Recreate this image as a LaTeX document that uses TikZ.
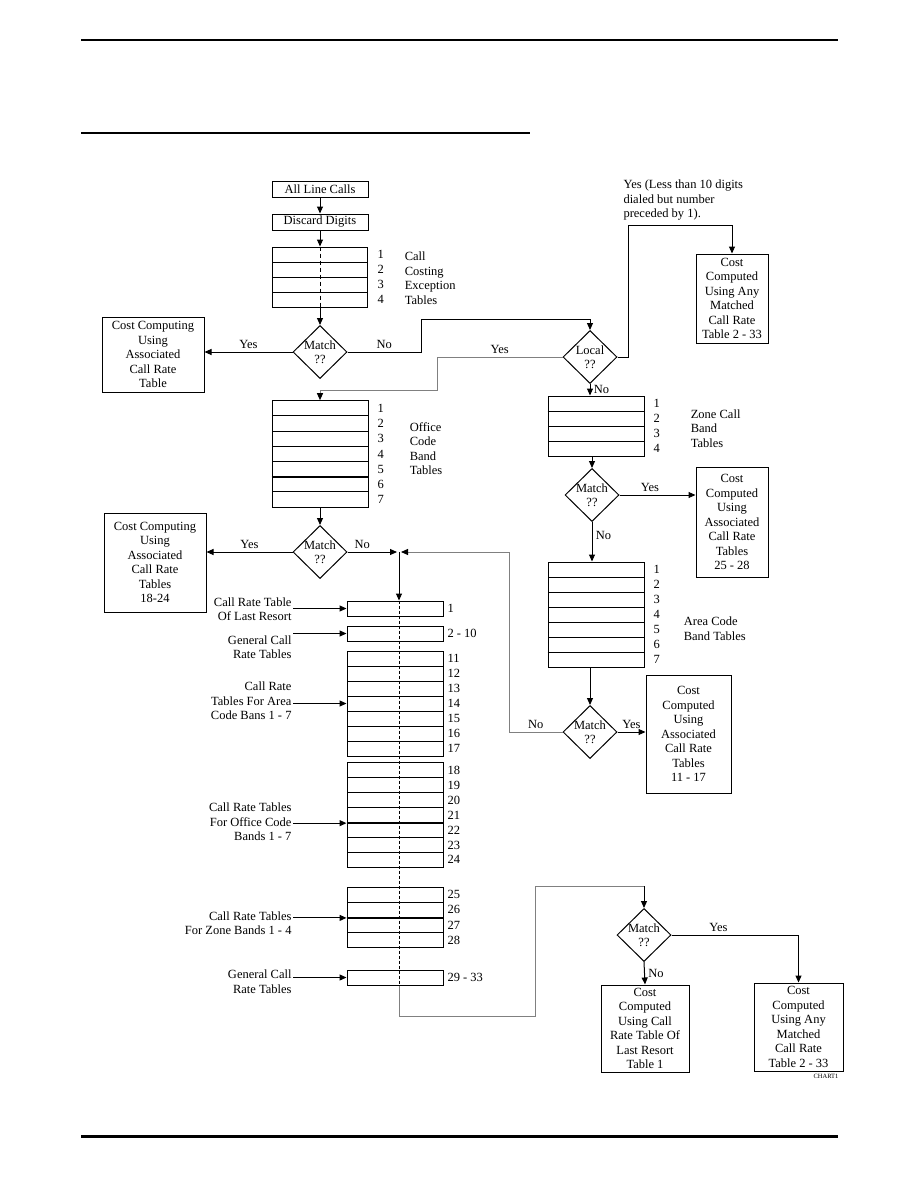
\documentclass[tikz,border=0pt]{standalone}
\usepackage{fontspec}
\setmainfont{Liberation Serif}
\usetikzlibrary{arrows.meta,shapes.geometric,calc}

\begin{document}
\begin{tikzpicture}[
    x=1pt,
    y=-1pt,
    line width=1pt,
    every node/.style={font=\fontsize{12.5}{14.5}\selectfont},
    box/.style={draw, align=center, inner sep=1pt},
    tbl/.style={draw, minimum width=96pt, minimum height=15pt, inner sep=0pt},
    dec/.style={draw, diamond, minimum width=54pt, minimum height=53pt, inner sep=0pt},
    num/.style={anchor=west, inner sep=1pt},
    side/.style={anchor=east, align=right, inner sep=1pt},
    arr/.style={-{Triangle[length=7pt,width=6pt]}},
    garr/.style={draw=black!50, -{Triangle[length=7pt,width=6pt,color=black]}},
    sep/.style={line width=1.8pt}
]
\useasboundingbox (0,0) rectangle (918,1188);

% page rules
\draw[line width=2pt] (81,40) -- (838,40);
\draw[line width=2pt] (81,133) -- (530,133);
\draw[line width=3pt] (81,1136) -- (838,1136);

% start
\node[box, minimum width=96pt, minimum height=16pt] (alc) at (320,189) {All Line Calls};
\node[box, minimum width=96pt, minimum height=16pt] (dd) at (320,222) {Discard Digits};

% call costing exception tables
\foreach \i in {1,...,4} {
  \node[tbl, minimum width=95pt] (ce\i) at (320,{247+15*(\i-0.5)}) {};
  \node[num] (nce\i) at (376,{247+15*(\i-0.5)}) {\i};
}
\node[anchor=west, align=left] (cetxt) at (401,278) {Call\\Costing\\Exception\\Tables};

\node[dec, label={[align=center]center:{Match\\??}}] (m1) at (320,352) {};
\node[box, minimum width=102pt, minimum height=75pt] (cc1) at (153,354.5) {Cost Computing\\Using\\Associated\\Call Rate\\Table};

\node[dec, label={[align=center]center:{Local\\??}}] (loc) at (590,357) {};
\node[anchor=west, align=left, inner sep=1pt] (ytxt) at (622,200.5) {Yes (Less than 10 digits\\dialed but number\\preceded by 1).};
\node[box, minimum width=72pt, minimum height=89pt] (any1) at (732,298.5) {Cost\\Computed\\Using Any\\Matched\\Call Rate\\Table 2 - 33};

% office code band tables
\foreach \i in {1,...,7} {
  \node[tbl, minimum height=15.2pt] (oc\i) at (320,{400.7+15.2*(\i-0.5)}) {};
  \node[num] (noc\i) at (376,{400.7+15.2*(\i-0.5)}) {\i};
}
\draw[sep] (oc5.south west) -- (oc5.south east);
\node[anchor=west, align=left] (octxt) at (406,448.5) {Office\\Code\\Band\\Tables};

\node[dec, label={[align=center]center:{Match\\??}}] (m2) at (320,552) {};
\node[box, minimum width=102pt, minimum height=99pt] (cc2) at (155,562.5) {Cost Computing\\Using\\Associated\\Call Rate\\Tables\\18-24};

% zone call band tables
\foreach \i in {1,...,4} {
  \node[tbl] (zc\i) at (596,{396+15*(\i-0.5)}) {};
  \node[num] (nzc\i) at (652,{396+15*(\i-0.5)}) {\i};
}
\draw[sep] (zc1.south west) -- (zc1.south east);
\node[anchor=west, align=left] (zctxt) at (687,428.5) {Zone Call\\Band\\Tables};

\node[dec, label={[align=center]center:{Match\\??}}] (m3) at (592,495) {};
\node[box, minimum width=72pt, minimum height=110pt] (zr) at (732,522) {Cost\\Computed\\Using\\Associated\\Call Rate\\Tables\\25 - 28};

% area code band tables
\foreach \i in {1,...,7} {
  \node[tbl] (ac\i) at (596,{562+15*(\i-0.5)}) {};
  \node[num] (nac\i) at (652,{562+15*(\i-0.5)}) {\i};
}
\draw[sep] (ac6.south west) -- (ac6.south east);
\node[anchor=west, align=left] (actxt) at (680,628.5) {Area Code\\Band Tables};

\node[dec, label={[align=center]center:{Match\\??}}] (m4) at (590,732) {};
\node[box, minimum width=85pt, minimum height=118pt] (ar) at (688.5,734) {Cost\\Computed\\Using\\Associated\\Call Rate\\Tables\\11 - 17};

% call rate tables
\node[tbl] (r1) at (395,608.5) {};
\node[num] (nr1) at (446,608.5) {1};
\node[tbl] (r2) at (395,633.5) {};
\node[num] (nr2) at (446,633.5) {2 - 10};
\foreach \i in {11,...,17} {
  \node[tbl] (r\i) at (395,{651+15*(\i-10.5)}) {};
  \node[num] (nr\i) at (446,{651+15*(\i-10.5)}) {\i};
}
\foreach \i in {18,...,24} {
  \node[tbl] (r\i) at (395,{763+14.9*(\i-17.5)}) {};
  \node[num] (nr\i) at (446,{763+14.9*(\i-17.5)}) {\i};
}
\foreach \i in {25,...,28} {
  \node[tbl, minimum height=15.2pt] (r\i) at (395,{887+15.2*(\i-24.5)}) {};
  \node[num] (nr\i) at (446,{887+15.2*(\i-24.5)}) {\i};
}
\node[tbl] (r29) at (395,977.5) {};
\node[num] (nr29) at (446,977.5) {29 - 33};
\draw[sep] (r21.south west) -- (r21.south east);
\draw[sep] (r26.south west) -- (r26.south east);

\node[side] (l1) at (293,609) {Call Rate Table\\Of Last Resort};
\node[side] (l2) at (293,647) {General Call\\Rate Tables};
\node[side] (l3) at (293,701) {Call Rate\\Tables For Area\\Code Bans 1 - 7};
\node[side] (l4) at (293,822) {Call Rate Tables\\For Office Code\\Bands 1 - 7};
\node[side] (l5) at (293,923) {Call Rate Tables\\For Zone Bands 1 - 4};
\node[side] (l6) at (293,981.5) {General Call\\Rate Tables};

% last match
\node[dec, label={[align=center]center:{Match\\??}}] (m5) at (644,935) {};
\node[box, minimum width=88pt, minimum height=87pt] (lr) at (645,1028.5) {Cost\\Computed\\Using Call\\Rate Table Of\\Last Resort\\Table 1};
\node[box, minimum width=89pt, minimum height=88pt] (ba) at (798.5,1027) {Cost\\Computed\\Using Any\\Matched\\Call Rate\\Table 2 - 33};
\node[font=\fontsize{6.5}{7}\selectfont, inner sep=0pt] (chart) at (826,1076) {CHART1};

% free ends of connectors
\coordinate (nb1) at (421,319);
\coordinate (ly) at (437,390);
\coordinate (ry) at (628,225);
\coordinate (an) at (509,552);
\coordinate (jn) at (399,552);
\coordinate (jl) at (397,552);
\coordinate (jr) at (401,552);
\coordinate (bl) at (399,1016);
\coordinate (bt) at (535,886);

% connectors
\draw[arr] (alc) -- (dd);
\draw[arr] (dd) -- (ce1.north);
\draw[dash pattern=on 4pt off 3pt] (ce1.north) -- (ce4.south);
\draw[arr] (ce4.south) -- (m1.north);
\draw[arr] (m1.west) -- node[above]{Yes} (m1.west -| cc1.east);
\draw[arr] (m1.east) -- node[above]{No} (m1.east -| nb1) -- (nb1) -| (loc.north);
\draw[garr] (loc.west) -- node[above, text=black]{Yes} (loc.west -| ly) -- (ly) -| (oc1.north);
\draw[arr] (loc.east) -- (loc.east -| ry) -- (ry) -| (any1.north);
\draw[arr] (loc.south) -- node[right]{No} (loc.south |- zc1.north);

\draw[arr] (oc7.south) -- (m2.north);
\draw[arr] (m2.west) -- node[above]{Yes} (m2.west -| cc2.east);
\draw[arr] (m2.east) -- node[above, pos=0.3]{No} (jl);
\draw[arr] (jn) -- (jn |- r1.north);

\draw[arr] (m3.north |- zc4.south) -- (m3.north);
\draw[arr] (m3.east) -- node[above, pos=0.4]{Yes} (m3.east -| zr.west);
\draw[arr] (m3.south) -- node[right, pos=0.35]{No} (m3.south |- ac1.north);

\draw[arr] (m4.north |- ac7.south) -- (m4.north);
\draw[arr] (m4.east) -- node[above]{Yes} (m4.east -| ar.west);
\draw[garr] (m4.west) -- node[above, text=black]{No} (m4.west -| an) -- (an) -- (jr);

\draw[arr] (l1.east |- r1.west) -- (r1.west);
\draw[arr] (l2.east |- r2.west) -- (r2.west);
\draw[arr] (l3.east |- r14.west) -- (r14.west);
\draw[arr] (l4.east |- r21.south west) -- (r21.south west);
\draw[arr] (l5.east |- r26.south west) -- (r26.south west);
\draw[arr] (l6.east |- r29.west) -- (r29.west);

\draw[dash pattern=on 3pt off 2pt] (jn |- r1.north) -- (jn |- r29.south);
\draw[draw=black!50] (jn |- r29.south) -- (bl) -| (bt) -- (bt -| m5.north);
\draw[arr] (bt -| m5.north) -- (m5.north);
\draw[arr] (m5.east) -- node[above, pos=0.37]{Yes} (m5.east -| ba.north) -- (ba.north);
\draw[arr] (m5.south) -- node[right]{No} (lr.north);
\end{tikzpicture}
\end{document}
